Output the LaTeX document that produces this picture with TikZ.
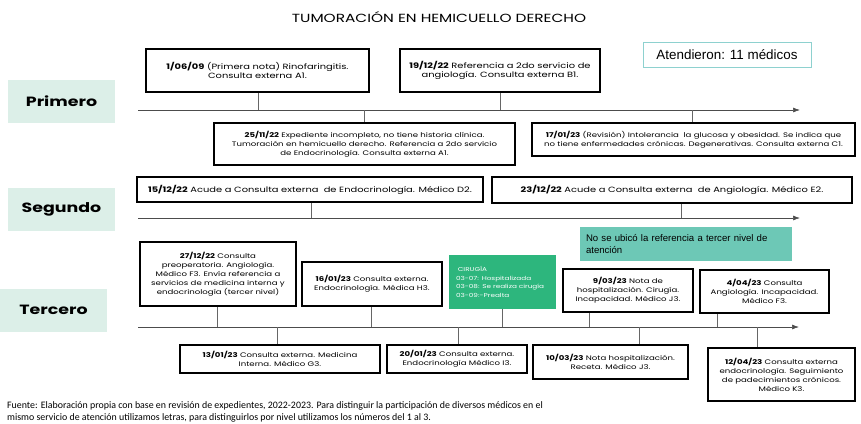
\documentclass[tikz,border=0pt]{standalone}
\usepackage{fontspec}
\setmainfont{Poppins}[FakeStretch=1.3]
\newfontfamily\arialf{Liberation Sans}
\newfontfamily\calf{Carlito}
\usetikzlibrary{arrows.meta}
\definecolor{mint}{HTML}{DCEFE8}
\definecolor{cirg}{HTML}{2DB67D}
\definecolor{teal}{HTML}{6DC8B6}
\definecolor{tealb}{HTML}{8ED1CF}
\tikzstyle{ev}=[draw=black, line width=1.5pt, fill=white, align=center, inner sep=1pt, font=\fontsize{6.6}{9}\selectfont]
\tikzstyle{evb}=[ev, font=\fontsize{7.6}{9.6}\selectfont]
\tikzstyle{lvl}=[fill=mint, minimum width=107pt, minimum height=43pt, font=\fontsize{13.4}{16}\selectfont\bfseries]
\tikzstyle{tl}=[draw=black!70, line width=0.7pt, -{Latex[length=7pt,width=5pt]}]
\tikzstyle{tk}=[draw=black!60, line width=0.6pt]

\begin{document}
\begin{tikzpicture}[x=1pt,y=-1pt]
\useasboundingbox (0,0) rectangle (861,423);
\node at (439,17)[font=\fontsize{11.8}{13}\selectfont](ttl){TUMORACIÓN EN HEMICUELLO DERECHO};
\node at (727,54.5)[draw=tealb, line width=0.8pt, minimum width=168pt, minimum height=25pt, font=\arialf\fontsize{13.4}{15}\selectfont](atd){Atendieron: 11 médicos};
% niveles
\node at (61.5,101.5)[lvl](n1){Primero};
\node at (61.5,209.5)[lvl](n2){Segundo};
\node at (53.5,310)[lvl](n3){Tercero};
% lineas de tiempo
\coordinate (s1) at (138,110); \coordinate (e1) at (800,110);
\coordinate (s2) at (138,218); \coordinate (e2) at (800,218);
\coordinate (s3) at (138,327); \coordinate (e3) at (799,327);
\draw[tl] (s1)--(e1);
\draw[tl] (s2)--(e2);
\draw[tl] (s3)--(e3);
% primer nivel
\node at (257.5,70.5)[evb, minimum width=223pt, minimum height=43pt](a1){\textbf{1/06/09} (Primera nota) Rinofaringitis.\\Consulta externa A1.};
\node at (500,70.5)[evb, minimum width=200pt, minimum height=43pt](a2){\textbf{19/12/22} Referencia a 2do servicio de\\angiología. Consulta externa B1.};
\node at (364.5,144)[ev, minimum width=301pt, minimum height=42pt](a3){\textbf{25/11/22} Expediente incompleto, no tiene historia clínica.\\Tumoración en hemicuello derecho. Referencia a 2do servicio\\de Endocrinología. Consulta externa A1.};
\node at (693.5,139.5)[ev, minimum width=323pt, minimum height=33pt](a4){\textbf{17/01/23} (Revisión) Intolerancia\ \ la glucosa y obesidad. Se indica que\\no tiene enfermedades crónicas. Degenerativas. Consulta externa C1.};
% segundo nivel
\node at (310,189.5)[evb, minimum width=346pt, minimum height=25pt](b1){\textbf{15/12/22} Acude a Consulta externa\ \ de Endocrinología. Médico D2.};
\node at (672,190)[evb, minimum width=360pt, minimum height=26pt](b2){\textbf{23/12/22} Acude a Consulta externa\ \ de Angiología. Médico E2.};
% tercer nivel
\node at (218,274)[ev, minimum width=156pt, minimum height=64pt](c1){\textbf{27/12/22} Consulta\\preoperatoria. Angiología.\\Médico F3. Envía referencia a\\servicios de medicina interna y\\endocrinología (tercer nivel)};
\node at (372,284)[ev, minimum width=140pt, minimum height=44pt](c2){\textbf{16/01/23} Consulta externa.\\Endocrinología. Médica H3.};
\node at (502.5,282)[fill=cirg, text=white, minimum width=107pt, minimum height=54pt, text width=93pt, align=left, inner xsep=7pt, inner ysep=3pt, font=\fontsize{5.6}{8.4}\selectfont](cx){\ CIRUGÍA\\03-07: Hospitalizada\\03-08: Se realiza cirugía\\03-09:-Prealta};
\node at (686,244)[fill=teal, minimum width=212pt, minimum height=34pt, text width=200pt, align=left, inner sep=5pt, font=\arialf\fontsize{9.6}{11.5}\selectfont](nose){No se ubicó la referencia a tercer nivel de\\atención};
\node at (628,290.5)[ev, minimum width=130pt, minimum height=43pt](c3){\textbf{9/03/23} Nota de\\hospitalización. Cirugía.\\Incapacidad. Médico J3.};
\node at (764.5,291.5)[ev, minimum width=129pt, minimum height=43pt](c4){\textbf{4/04/23} Consulta\\Angiología. Incapacidad.\\Médico F3.};
\node at (280,359)[ev, minimum width=200pt, minimum height=28pt](d1){\textbf{13/01/23} Consulta externa. Medicina\\Interna. Médico G3.};
\node at (457,359)[ev, minimum width=140pt, minimum height=28pt](d2){\textbf{20/01/23} Consulta externa.\\Endocrinología Médico I3.};
\node at (610.5,362)[ev, minimum width=155pt, minimum height=34pt](d3){\textbf{10/03/23} Nota hospitalización.\\Receta. Médico J3.};
\node at (781.5,374.5)[ev, minimum width=147pt, minimum height=53pt](d4){\textbf{12/04/23} Consulta externa\\endocrinología. Seguimiento\\de padecimientos crónicos.\\Médico K3.};
% marcas
\foreach \x/\y/\b/\a [count=\i] in {258/110/a1/south, 500/110/a2/south, 364/110/a3/north, 692/110/a4/north,
  311/218/b1/south, 681/218/b2/south,
  217/327/c1/south, 371/327/c2/south, 502/327/cx/south, 589/327/c3/south, 717/327/c4/south,
  277/327/d1/north, 458/327/d2/north, 639/327/d3/north, 757/327/d4/north}
  {\coordinate (m\i) at (\x,\y); \draw[tk] (m\i)--(m\i |- \b.\a);}
\node at (7,401)[anchor=north west, align=left, inner sep=0pt, font=\calf\fontsize{9.9}{12}\selectfont](src){Fuente: Elaboración propia con base en revisión de expedientes, 2022-2023. Para distinguir la participación de diversos médicos en el\\mismo servicio de atención utilizamos letras, para distinguirlos por nivel utilizamos los números del 1 al 3.};
\end{tikzpicture}
\end{document}
